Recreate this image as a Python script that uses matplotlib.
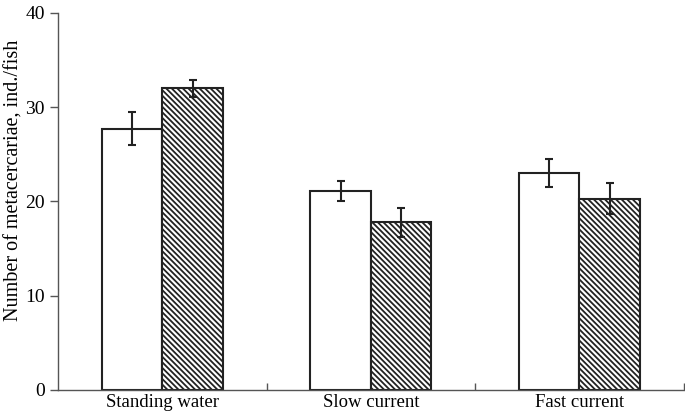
import numpy as np
import matplotlib.pyplot as plt

plt.rcParams['font.family'] = ['Liberation Serif', 'DejaVu Serif']
plt.rcParams['hatch.linewidth'] = 1.3

categories = ["Standing water", "Slow current", "Fast current"]
open_vals = [27.7, 21.1, 23.0]
open_err = [1.75, 1.05, 1.5]
hatched_vals = [32.0, 17.8, 20.3]
hatched_err = [0.9, 1.55, 1.65]

x = np.arange(len(categories))
w = 0.29

fig = plt.figure(figsize=(6.85, 4.17), dpi=100)
ax = fig.add_axes([0.085, 0.065, 0.913, 0.904])

ax.bar(x - w / 2, open_vals, w, color='white', edgecolor='#222222', linewidth=1.5,
       yerr=open_err, capsize=3, error_kw=dict(ecolor='#222222', elinewidth=1.5, capthick=1.5))
ax.bar(x + w / 2, hatched_vals, w, color='white', edgecolor='#222222', linewidth=1.5,
       hatch='\\' * 6, yerr=hatched_err, capsize=3,
       error_kw=dict(ecolor='#222222', elinewidth=1.5, capthick=1.5))

ax.set_xlim(-0.5, 2.5)
ax.set_ylim(0, 40)
ax.set_yticks([0, 10, 20, 30, 40])
ax.set_xticks(x)
ax.set_xticklabels(categories, fontsize=13.5)
ax.tick_params(axis='x', length=0, pad=3)
ax.set_xticks([0.5, 1.5, 2.5], minor=True)
ax.tick_params(axis='x', which='minor', direction='in', length=5, width=1, color='#555555')
ax.tick_params(axis='y', direction='out', length=6, width=1, labelsize=14, color='#555555')
ax.set_ylabel("Number of metacercariae, ind./fish", fontsize=14.5)
ax.yaxis.set_label_coords(-0.055, 0.555)

for s in ['top', 'right']:
    ax.spines[s].set_visible(False)
for s in ['left', 'bottom']:
    ax.spines[s].set_color('#555555')
    ax.spines[s].set_linewidth(1)

fig.savefig('out.png', dpi=100)
